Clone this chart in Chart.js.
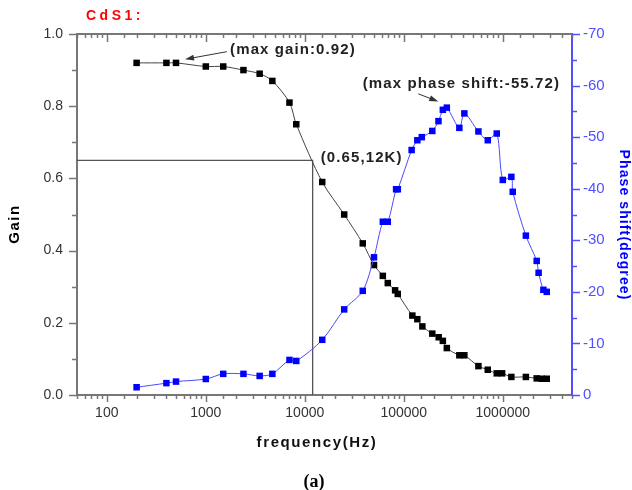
<!DOCTYPE html>
<html><head><meta charset="utf-8">
<script src="https://cdn.jsdelivr.net/npm/chart.js@4.4.1/dist/chart.umd.min.js"></script>
<style>html,body{margin:0;padding:0;background:#fff;}#wrap{width:632px;height:490px;position:relative;}</style>
</head><body><div id="wrap"><canvas id="c" width="632" height="490"></canvas></div>
<script>
// ---- data ----
const gainFreq = [200,400,500,1000,1500,2400,3500,4700,7000,8200,15000,25000,38500,50000,61400,68900,81700,86900,122000,137000,154000,194000,225000,248000,272000,364000,409000,567000,705000,869000,984000,1220000,1710000,2200000,2480000,2780000];
const gainValues = [0.92,0.92,0.92,0.91,0.91,0.90,0.89,0.87,0.81,0.75,0.59,0.50,0.42,0.36,0.33,0.31,0.29,0.28,0.22,0.21,0.19,0.17,0.16,0.15,0.13,0.11,0.11,0.08,0.07,0.06,0.06,0.05,0.05,0.046,0.045,0.045];
const phaseFreq = [200,400,500,1000,1500,2400,3500,4700,7000,8200,15000,25000,38500,50000,61400,68900,83600,87000,120000,137000,152000,194000,224000,248000,272000,364000,409000,567000,705000,869000,1000000,1220000,1260000,1710000,2200000,2300000,2570000,2780000];
const phaseValues = [-1.5,-2.3,-2.6,-3.1,-4.1,-4.1,-3.7,-4.1,-6.8,-6.6,-10.7,-16.6,-20.2,-26.7,-33.6,-33.6,-39.9,-39.9,-47.5,-49.4,-50.0,-51.2,-53.1,-55.3,-55.72,-51.8,-54.6,-51.1,-49.4,-50.7,-41.7,-42.3,-39.4,-30.9,-26.0,-23.7,-20.4,-20.0];
const cutoffGain = 0.65;
const cutoffFreq = 12000;
const xRange = [50, 5000000];
const gainRange = [0, 1];
const phaseRange = [-70, 0];
const titleText = 'CdS1:';
const xTitle = 'frequency(Hz)';
const yTitle = 'Gain';
const y1Title = 'Phase shift(degree)';
const captionText = '(a)';
// annotations: text anchor in data coordinates, optional arrow
const notes = [
  {text:'(max gain:0.92)', x:1760, y:0.957, axis:'y', from:[1630,0.951], to:[617,0.93]},
  {text:'(max phase shift:-55.72)', x:38500, y:-60.3, axis:'y1', from:[140000,-58.4], to:[223000,-56.9]},
  {text:'(0.65,12K)', x:14500, y:0.656, axis:'y'}
];

const SANS = "'Liberation Sans', Arial, sans-serif";
const BLUE = '#0000ff';
const BLUE_AX = '#5050ff';
const GRAY = '#777777';

function txt(ctx, s, x, y, font, color, align, spacing, rot){
  ctx.save();
  ctx.font = font; ctx.fillStyle = color; ctx.textAlign = align; ctx.textBaseline = 'middle';
  ctx.letterSpacing = spacing + 'px';
  ctx.translate(x, y); if (rot) ctx.rotate(rot);
  ctx.fillText(s, 0, 0);
  ctx.restore();
}
function arrow(ctx, x0, y0, x1, y1){
  ctx.save();
  ctx.strokeStyle = '#333'; ctx.fillStyle = '#333'; ctx.lineWidth = 1;
  const a = Math.atan2(y1-y0, x1-x0);
  const hl = 9, hw = 3;
  ctx.beginPath(); ctx.moveTo(x0,y0); ctx.lineTo(x1 - hl*Math.cos(a)*0.7, y1 - hl*Math.sin(a)*0.7); ctx.stroke();
  ctx.beginPath();
  ctx.moveTo(x1,y1);
  ctx.lineTo(x1 - hl*Math.cos(a) + hw*Math.sin(a), y1 - hl*Math.sin(a) - hw*Math.cos(a));
  ctx.lineTo(x1 - hl*Math.cos(a) - hw*Math.sin(a), y1 - hl*Math.sin(a) + hw*Math.cos(a));
  ctx.closePath(); ctx.fill();
  ctx.restore();
}
function isPow10(v){ const l = Math.log10(v); return Math.abs(l - Math.round(l)) < 1e-9; }

const decor = {
  id: 'decor',
  beforeDatasetsDraw(chart){
    const ctx = chart.ctx, a = chart.chartArea;
    const x = chart.scales.x, y = chart.scales.y, y1 = chart.scales.y1;
    ctx.save();
    ctx.strokeStyle = GRAY; ctx.lineWidth = 2;
    ctx.beginPath(); ctx.moveTo(a.left, a.top); ctx.lineTo(a.right, a.top); ctx.stroke();
    ctx.lineWidth = 1.5;
    x.ticks.forEach(t => {
      const px = Math.round(x.getPixelForValue(t.value)) + 0.5;
      const major = isPow10(t.value);
      ctx.strokeStyle = GRAY;
      ctx.beginPath(); ctx.moveTo(px, a.bottom); ctx.lineTo(px, a.bottom + (major ? 7 : 4)); ctx.stroke();
      ctx.beginPath(); ctx.moveTo(px, a.top); ctx.lineTo(px, a.top + (major ? 8 : 4)); ctx.stroke();
    });
    y.ticks.forEach(t => {
      const py = Math.round(y.getPixelForValue(t.value)) + 0.5;
      const major = Math.round(t.value * 10) % 2 === 0;
      ctx.strokeStyle = GRAY;
      ctx.beginPath(); ctx.moveTo(a.left - (major ? 8 : 5), py); ctx.lineTo(a.left, py); ctx.stroke();
    });
    y1.ticks.forEach(t => {
      const py = Math.round(y1.getPixelForValue(t.value)) + 0.5;
      const major = Math.round(t.value) % 10 === 0;
      ctx.strokeStyle = BLUE_AX;
      ctx.beginPath(); ctx.moveTo(a.right, py); ctx.lineTo(a.right + (major ? 8 : 5), py); ctx.stroke();
    });
    ctx.restore();
  },
  afterDraw(chart){
    const ctx = chart.ctx;
    const x = chart.scales.x;
    const boldNote = "bold 15px " + SANS;
    notes.forEach(n => {
      const s = chart.scales[n.axis];
      txt(ctx, n.text, x.getPixelForValue(n.x), s.getPixelForValue(n.y), boldNote, '#222', 'left', 1.1);
      if (n.from) arrow(ctx, x.getPixelForValue(n.from[0]), s.getPixelForValue(n.from[1]), x.getPixelForValue(n.to[0]), s.getPixelForValue(n.to[1]));
    });
    txt(ctx, titleText, 86, 16, "bold 14px " + SANS, '#ff0000', 'left', 3.5);
    txt(ctx, yTitle, 15, 224, "bold 15px " + SANS, '#000', 'center', 1.5, -Math.PI/2);
    txt(ctx, y1Title, 624, 225, "bold 14px " + SANS, BLUE, 'center', 1.1, Math.PI/2);
    txt(ctx, xTitle, 317, 443, "bold 15px " + SANS, '#111', 'center', 1.6);
    txt(ctx, captionText, 314, 482, "bold 18px 'Liberation Serif', 'Times New Roman', serif", '#000', 'center', 0);
  }
};

new Chart(document.getElementById('c'), {
  type: 'line',
  data: {
    datasets: [
      {
        label: 'cutoff', yAxisID: 'y',
        data: [{x: xRange[0], y: cutoffGain}, {x: cutoffFreq, y: cutoffGain}, {x: cutoffFreq, y: gainRange[0]}],
        borderColor: '#555', borderWidth: 1.3, pointRadius: 0, tension: 0, order: 3
      },
      {
        label: 'Gain', yAxisID: 'y',
        data: gainFreq.map((f, i) => ({x: f, y: gainValues[i]})),
        borderColor: '#444', borderWidth: 1, backgroundColor: '#000', pointBackgroundColor: '#000', pointBorderColor: '#000',
        pointStyle: 'rect', pointRadius: 4.6, pointBorderWidth: 0, tension: 0.3, order: 2
      },
      {
        label: 'Phase', yAxisID: 'y1',
        data: phaseFreq.map((f, i) => ({x: f, y: phaseValues[i]})),
        borderColor: '#4a4aff', borderWidth: 1, backgroundColor: BLUE, pointBackgroundColor: BLUE, pointBorderColor: BLUE,
        pointStyle: 'rect', pointRadius: 4.6, pointBorderWidth: 0, tension: 0.3, order: 1
      }
    ]
  },
  options: {
    responsive: false, animation: false, devicePixelRatio: 1,
    layout: {padding: {top: 34, left: 0, right: 0, bottom: 0}},
    plugins: {legend: {display: false}, tooltip: {enabled: false}, title: {display: false}},
    scales: {
      x: {
        type: 'logarithmic', position: 'bottom', min: xRange[0], max: xRange[1],
        afterFit: s => { s.height = 95; },
        border: {display: true, color: GRAY, width: 2},
        grid: {drawOnChartArea: false, drawTicks: false},
        ticks: {autoSkip: false, maxRotation: 0, padding: 10, color: '#333', font: {family: SANS, size: 14},
          callback: (v) => isPow10(v) ? String(Math.round(v)) : ''}
      },
      y: {
        type: 'linear', position: 'left', min: gainRange[0], max: gainRange[1],
        afterFit: s => { s.width = 77; },
        border: {display: true, color: GRAY, width: 2},
        grid: {drawOnChartArea: false, drawTicks: false},
        ticks: {stepSize: 0.1, autoSkip: false, padding: 14, color: '#333', font: {family: SANS, size: 14},
          callback: (v) => Math.round(v * 10) % 2 === 0 ? v.toFixed(1) : ''}
      },
      y1: {
        type: 'linear', position: 'right', min: phaseRange[0], max: phaseRange[1], reverse: true,
        afterFit: s => { s.width = 60; },
        border: {display: true, color: BLUE_AX, width: 2},
        grid: {drawOnChartArea: false, drawTicks: false},
        ticks: {stepSize: 5, autoSkip: false, padding: 11, color: BLUE_AX, font: {family: SANS, size: 15},
          callback: (v) => Math.round(v) % 10 === 0 ? String(Math.round(v)) : ''}
      }
    }
  },
  plugins: [decor]
});
</script></body></html>
